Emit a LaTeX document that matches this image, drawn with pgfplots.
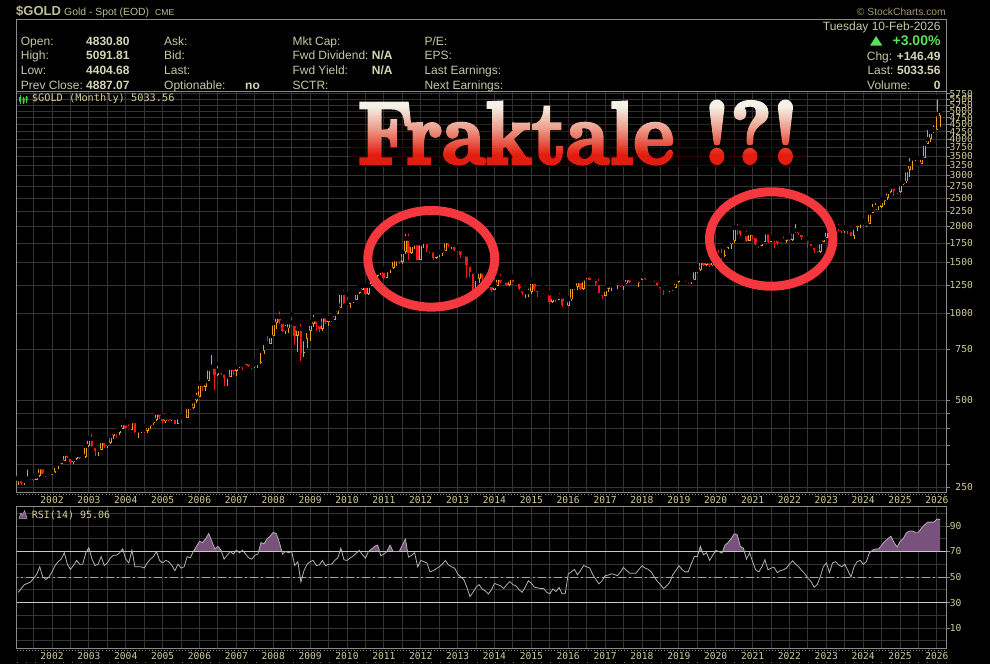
\documentclass[border=0pt]{standalone}
\usepackage{graphicx}
\usepackage{fontspec}
\usepackage{pgfplots}
\pgfplotsset{compat=1.18}
\usepackage{pgfplotstable}

\newfontfamily\uifont{Liberation Sans}
\newfontfamily\monofont{DejaVu Sans Mono}
\newfontfamily\posterfont{lmroman10-bold.otf}[FakeBold=4]

\definecolor{labelkhaki}{RGB}{200,200,165}
\definecolor{valuekhaki}{RGB}{214,214,182}
\definecolor{titlekhaki}{RGB}{190,190,150}
\definecolor{tickkhaki}{RGB}{212,204,150}
\definecolor{copygray}{RGB}{160,152,112}
\definecolor{gridgray}{RGB}{52,52,52}
\definecolor{framegray}{RGB}{138,138,138}
\definecolor{upcandle}{RGB}{238,158,34}
\definecolor{downcandle}{RGB}{248,26,26}
\definecolor{rsipurple}{RGB}{120,82,125}
\definecolor{rsiline}{RGB}{178,178,178}
\definecolor{levelline}{RGB}{200,200,200}
\definecolor{midline}{RGB}{165,165,165}
\definecolor{ringred}{RGB}{244,56,62}
\definecolor{upgreen}{RGB}{88,226,88}
\definecolor{icongreen}{RGB}{70,200,70}
\definecolor{fadetop}{RGB}{244,242,230}
\definecolor{fademid}{RGB}{236,152,134}
\definecolor{fadebot}{RGB}{226,28,14}

% cream at the top of the headline, salmon in the middle, red at the foot
\pgfdeclareverticalshading{headlinegrad}{100bp}{color(0bp)=(fadebot); color(33.6bp)=(fadebot); color(52.6bp)=(fademid); color(69.9bp)=(fadetop); color(100bp)=(fadetop)}

% monthly gold: t = year + (month-1)/12, open high low close, RSI(14)
\pgfplotstableread{
t o h l c r
2001.083 265.6 270 255 266.7 38
2001.167 266.7 268 255 257.7 41
2001.250 257.7 265 255 263.2 44
2001.333 263.2 293 263 267.5 45
2001.417 267.5 275 265 270.6 46
2001.500 270.6 272 262 265.9 49
2001.583 265.9 278 265 273.0 52
2001.667 273.0 294 271 293.1 58
2001.750 293.1 294 277 278.8 50
2001.833 278.8 281 272 275.5 48
2001.917 275.5 280 271 276.5 50
2002.000 276.5 284 276 282.3 54
2002.083 282.3 303 281 296.9 59
2002.167 296.9 304 289 301.4 62
2002.250 301.4 311 300 308.2 64
2002.333 308.2 328 307 326.6 69
2002.417 326.6 332 316 318.5 60
2002.500 318.5 323 301 304.7 56
2002.583 304.7 316 302 312.8 59
2002.667 312.8 325 310 323.7 63
2002.750 323.7 325 312 316.9 60
2002.833 316.9 322 314 317.7 60
2002.917 317.7 349 316 347.2 69
2003.000 347.2 371 345 367.5 73
2003.083 367.5 389 344 347.5 64
2003.167 347.5 352 320 334.9 59
2003.250 334.9 341 321 336.8 60
2003.333 336.8 372 336 361.4 66
2003.417 361.4 371 342 346.0 59
2003.500 346.0 365 342 354.8 61
2003.583 354.8 377 354 375.6 65
2003.667 375.6 390 368 388.0 67
2003.750 388.0 392 370 386.3 67
2003.833 386.3 400 380 398.4 69
2003.917 398.4 417 397 416.3 72
2004.000 416.3 427 399 399.8 64
2004.083 399.8 420 391 395.9 61
2004.167 395.9 428 394 423.7 71
2004.250 423.7 427 384 388.5 58
2004.333 388.5 398 371 393.3 58
2004.417 393.3 400 386 395.8 58
2004.500 395.8 408 384 391.4 57
2004.583 391.4 416 386 407.3 61
2004.667 407.3 419 399 415.7 64
2004.750 415.7 432 412 428.4 66
2004.833 428.4 456 424 453.4 70
2004.917 453.4 458 430 438.0 63
2005.000 438.0 440 418 422.2 61
2005.083 422.2 440 417 435.5 63
2005.167 435.5 447 423 427.5 62
2005.250 427.5 438 423 435.7 59
2005.333 435.7 436 413 414.5 55
2005.417 414.5 443 414 437.1 60
2005.500 437.1 438 417 429.0 57
2005.583 429.0 447 428 433.3 58
2005.667 433.3 475 433 473.3 66
2005.750 473.3 478 461 470.8 65
2005.833 470.8 496 465 495.7 70
2005.917 495.7 541 490 513.0 74
2006.000 513.0 572 512 568.8 78
2006.083 568.8 574 538 556.0 77
2006.167 556.0 584 538 582.0 80
2006.250 582.0 654 581 644.0 84
2006.333 644.0 730 640 653.0 78
2006.417 653.0 653 542 613.5 72
2006.500 613.5 668 606 632.5 74
2006.583 632.5 653 610 623.5 71
2006.667 623.5 626 560 599.3 64
2006.750 599.3 611 560 603.8 67
2006.833 603.8 648 604 646.7 70
2006.917 646.7 650 612 632.0 68
2007.000 632.0 652 605 650.5 71
2007.083 650.5 690 646 664.2 69
2007.167 664.2 666 636 661.8 71
2007.250 661.8 692 661 677.0 68
2007.333 677.0 687 652 659.1 65
2007.417 659.1 667 640 650.5 64
2007.500 650.5 684 646 665.5 67
2007.583 665.5 675 648 672.0 68
2007.667 672.0 745 669 743.0 77
2007.750 743.0 793 721 789.5 76
2007.833 789.5 848 776 783.5 80
2007.917 783.5 838 781 833.8 82
2008.000 833.8 929 832 923.3 85
2008.083 923.3 975 881 971.5 84
2008.167 971.5 1033 917 933.5 77
2008.250 933.5 936 858 871.0 68
2008.333 871.0 929 851 885.8 70
2008.417 885.8 940 857 930.3 69
2008.500 930.3 988 907 918.0 70
2008.583 918.0 920 776 833.0 59
2008.667 833.0 920 736 884.5 62
2008.750 884.5 936 681 730.8 46
2008.833 730.8 826 705 814.5 55
2008.917 814.5 887 756 869.8 60
2009.000 869.8 932 802 919.5 62
2009.083 919.5 1007 898 952.0 63
2009.167 952.0 963 866 916.5 59
2009.250 916.5 928 864 883.3 59.5
2009.333 883.3 981 870 975.5 63
2009.417 975.5 990 920 934.5 58.8
2009.500 934.5 960 905 955.5 60
2009.583 955.5 965 933 949.5 60
2009.667 949.5 1024 949 995.8 63
2009.750 995.8 1070 995 1040.0 65
2009.833 1040.0 1195 1040 1175.8 72.6
2009.917 1175.8 1227 1076 1087.5 63.5
2010.000 1087.5 1162 1073 1078.5 63
2010.083 1078.5 1127 1045 1109.5 64.8
2010.167 1109.5 1135 1088 1113.3 66.5
2010.250 1113.3 1180 1113 1179.3 68.7
2010.333 1179.3 1249 1163 1207.5 70.8
2010.417 1207.5 1266 1199 1244.0 67.5
2010.500 1244.0 1246 1156 1169.0 64.8
2010.583 1169.0 1248 1157 1246.0 70
2010.667 1246.0 1315 1243 1307.0 72
2010.750 1307.0 1388 1307 1346.8 74
2010.833 1346.8 1424 1331 1383.5 75
2010.917 1383.5 1431 1361 1405.5 66.6
2011.000 1405.5 1424 1309 1327.0 68
2011.083 1327.0 1413 1327 1411.0 70
2011.167 1411.0 1448 1381 1439.0 75
2011.250 1439.0 1576 1419 1535.5 70
2011.333 1535.5 1577 1462 1536.5 70
2011.417 1536.5 1557 1478 1505.5 70
2011.500 1505.5 1632 1481 1628.5 75
2011.583 1628.5 1912 1605 1813.5 79.7
2011.667 1813.5 1921 1532 1620.0 65.6
2011.750 1620.0 1764 1601 1722.0 67
2011.833 1722.0 1803 1669 1746.0 69
2011.917 1746.0 1764 1523 1531.0 58
2012.000 1531.0 1764 1526 1744.0 63
2012.083 1744.0 1792 1686 1770.0 62
2012.167 1770.0 1770 1627 1662.5 61
2012.250 1662.5 1678 1613 1651.3 54
2012.333 1651.3 1668 1527 1558.0 55
2012.417 1558.0 1641 1546 1598.5 56.4
2012.500 1598.5 1628 1563 1622.0 58
2012.583 1622.0 1675 1583 1648.5 60
2012.667 1648.5 1788 1643 1776.0 63
2012.750 1776.0 1796 1697 1719.0 59.5
2012.833 1719.0 1755 1672 1726.0 58
2012.917 1726.0 1726 1636 1657.5 57
2013.000 1657.5 1694 1625 1664.8 52.5
2013.083 1664.8 1684 1555 1588.5 50
2013.167 1588.5 1617 1562 1598.3 48
2013.250 1598.3 1600 1321 1469.0 42
2013.333 1469.0 1488 1338 1394.5 34.7
2013.417 1394.5 1420 1180 1192.0 38
2013.500 1192.0 1348 1190 1314.5 42
2013.583 1314.5 1434 1271 1394.8 44
2013.667 1394.8 1420 1290 1326.5 40.5
2013.750 1326.5 1362 1251 1324.0 39
2013.833 1324.0 1361 1227 1253.0 36.8
2013.917 1253.0 1268 1187 1204.5 40
2014.000 1204.5 1270 1202 1244.8 45
2014.083 1244.8 1345 1240 1326.5 44
2014.167 1326.5 1392 1277 1284.0 43
2014.250 1284.0 1331 1268 1295.8 41
2014.333 1295.8 1315 1241 1250.5 44
2014.417 1250.5 1332 1240 1327.0 46.5
2014.500 1327.0 1345 1280 1282.5 44
2014.583 1282.5 1322 1273 1287.3 43
2014.667 1287.3 1288 1204 1210.5 40
2014.750 1210.5 1255 1161 1171.0 38
2014.833 1171.0 1212 1131 1182.8 42
2014.917 1182.8 1239 1142 1184.0 47
2015.000 1184.0 1307 1167 1283.0 45
2015.083 1283.0 1285 1192 1212.5 42
2015.167 1212.5 1223 1142 1183.0 41.5
2015.250 1183.0 1224 1170 1183.3 41
2015.333 1183.3 1232 1170 1190.5 41
2015.417 1190.5 1205 1162 1172.0 38
2015.500 1172.0 1176 1077 1095.3 36.8
2015.583 1095.3 1170 1085 1134.3 40.7
2015.667 1134.3 1157 1098 1114.0 38.6
2015.750 1114.0 1191 1113 1142.3 41.8
2015.833 1142.3 1145 1052 1064.5 36.8
2015.917 1064.5 1088 1046 1060.3 36.8
2016.000 1060.3 1127 1060 1116.3 52.5
2016.083 1116.3 1263 1107 1234.9 54
2016.167 1234.9 1283 1208 1232.7 56
2016.250 1232.7 1303 1208 1291.0 51.7
2016.333 1291.0 1304 1200 1215.0 55
2016.417 1215.0 1362 1199 1320.0 59
2016.500 1320.0 1375 1310 1350.0 58
2016.583 1350.0 1367 1301 1307.0 57
2016.667 1307.0 1352 1302 1315.0 51.7
2016.750 1315.0 1318 1241 1272.0 48
2016.833 1272.0 1337 1171 1173.0 44.6
2016.917 1173.0 1194 1122 1150.0 47
2017.000 1150 1220 1146 1210 51
2017.083 1210 1264 1180 1248 51.5
2017.167 1248 1261 1195 1249 52.5
2017.250 1249 1295 1243 1268 52
2017.333 1268 1273 1214 1268 51
2017.417 1268 1296 1236 1242 54
2017.500 1242 1274 1204 1268 57.5
2017.583 1268 1331 1265 1322 55
2017.667 1322 1358 1274 1280 53
2017.750 1280 1306 1261 1271 53
2017.833 1271 1299 1264 1275 53
2017.917 1275 1307 1237 1302 56
2018.000 1302 1366 1302 1345 58.8
2018.083 1345 1362 1306 1318 57
2018.167 1318 1356 1303 1325 56
2018.250 1325 1365 1302 1315 54
2018.333 1315 1326 1282 1298 50
2018.417 1298 1309 1246 1253 46.5
2018.500 1253 1265 1211 1224 44
2018.583 1224 1224 1160 1202 41
2018.667 1202 1214 1180 1191 43
2018.750 1191 1243 1183 1214 45.7
2018.833 1214 1238 1196 1222 51.7
2018.917 1222 1284 1221 1282 55
2019.000 1282 1326 1276 1321 58.8
2019.083 1321 1347 1310 1313 56
2019.167 1313 1324 1281 1292 54
2019.250 1292 1310 1266 1283 54
2019.333 1283 1306 1266 1305 60
2019.417 1305 1439 1301 1409 66
2019.500 1409 1452 1382 1413 66
2019.583 1413 1555 1400 1520 74
2019.667 1520 1557 1459 1472 67.4
2019.750 1472 1518 1459 1513 69
2019.833 1513 1516 1445 1464 63
2019.917 1464 1523 1454 1517 67
2020.000 1517 1611 1517 1589 70.8
2020.083 1589 1689 1563 1585 70
2020.167 1585 1704 1451 1577 68.7
2020.250 1577 1747 1568 1686 75
2020.333 1686 1765 1670 1730 77
2020.417 1730 1789 1671 1781 80
2020.500 1781 1984 1757 1975 83.9
2020.583 1975 2075 1863 1967 83
2020.667 1967 1992 1849 1886 74
2020.750 1886 1933 1860 1879 72.6
2020.833 1879 1966 1765 1776 64
2020.917 1776 1906 1776 1898 69
2021.000 1898 1959 1803 1847 62
2021.083 1847 1873 1717 1734 55.6
2021.167 1734 1756 1677 1708 54
2021.250 1708 1798 1706 1769 58
2021.333 1769 1913 1766 1907 63.5
2021.417 1907 1916 1750 1770 55.6
2021.500 1770 1832 1767 1814 57
2021.583 1814 1831 1688 1813 57.5
2021.667 1813 1834 1721 1757 53.5
2021.750 1757 1813 1746 1783 55
2021.833 1783 1877 1758 1774 55.6
2021.917 1774 1831 1753 1829 57
2022.000 1829 1853 1781 1796 60
2022.083 1796 1974 1781 1909 62.7
2022.167 1909 2070 1890 1937 60
2022.250 1937 1998 1872 1897 58
2022.333 1897 1910 1787 1837 55
2022.417 1837 1879 1805 1807 52.5
2022.500 1807 1814 1681 1766 49
2022.583 1766 1808 1709 1711 46.5
2022.667 1711 1735 1615 1660 42
2022.750 1660 1730 1617 1634 44
2022.833 1634 1786 1616 1768 50
2022.917 1768 1833 1765 1824 58
2023.000 1824 1949 1823 1928 61
2023.083 1928 1959 1805 1827 53.5
2023.167 1827 2009 1810 1969 61
2023.250 1969 2048 1949 1990 62
2023.333 1990 2079 1933 1963 59.5
2023.417 1963 1985 1893 1919 58
2023.500 1919 1987 1902 1965 60
2023.583 1965 1966 1885 1940 55
2023.667 1940 1953 1847 1849 50
2023.750 1849 2009 1811 1983 58
2023.833 1983 2052 1931 2036 62
2023.917 2036 2135 1973 2063 63
2024.000 2063 2088 2002 2040 60
2024.083 2040 2065 1985 2044 62
2024.167 2044 2236 2039 2230 69
2024.250 2230 2431 2228 2286 71
2024.333 2286 2450 2277 2327 72
2024.417 2327 2388 2286 2327 72
2024.500 2327 2483 2318 2448 75
2024.583 2448 2531 2364 2503 78
2024.667 2503 2685 2472 2635 80
2024.750 2635 2790 2603 2744 82
2024.833 2744 2801 2537 2657 77
2024.917 2657 2726 2583 2625 73.5
2025.000 2625 2817 2614 2798 78
2025.083 2798 2956 2772 2858 80
2025.167 2858 3149 2833 3124 84.6
2025.250 3124 3500 2970 3289 86
2025.333 3289 3435 3121 3289 86
2025.417 3289 3452 3247 3303 85
2025.500 3303 3439 3268 3290 85
2025.583 3290 3453 3281 3448 88.6
2025.667 3448 3871 3436 3858 91
2025.750 3858 4381 3850 4002 93
2025.833 4002 4245 3930 4239 93
2025.917 4239 4550 4200 4320 93
2026.000 4320 5595 4290 4887.07 95.5
2026.083 4830.80 5091.81 4404.68 5033.56 95.06
}\gold

\pgfplotsset{
  geom/.style={
    scale only axis, width=930.2pt,
    xmin=2001.037, xmax=2026.263,
  },
  panel/.style={
    geom,
    axis line style={draw=framegray, line width=0.9pt},
    xtick={2002,...,2026},
    xticklabels={2002,2003,2004,2005,2006,2007,2008,2009,2010,2011,2012,2013,2014,2015,2016,2017,2018,2019,2020,2021,2022,2023,2024,2025,2026},
    minor xtick={2001.5,2002.5,...,2025.5},
    xmajorgrids, xminorgrids, ymajorgrids,
    major grid style={draw=gridgray, line width=0.9pt},
    minor grid style={draw=gridgray, line width=0.9pt},
    xtick style={draw=none},
    minor tick length=0pt,
    ytick pos=right, yticklabel pos=right,
    tick align=outside, major tick length=3pt,
    ytick style={draw=framegray, line width=0.8pt},
    ticklabel style={font=\monofont\fontsize{9.6}{11}\selectfont, text=tickkhaki, inner sep=0pt},
  },
  candle/.style n args={3}{only marks, mark=none, forget plot,
    error bars/y dir=minus, error bars/y explicit, error bars/error mark=none,
    error bars/error bar style={draw=#1, line width=#2, line cap=butt, solid, #3}},
}

\newcommand\headline{\resizebox{441pt}{62pt}{\posterfont\fontsize{90}{90}\selectfont Fraktale !?!}}

\begin{document}
\begin{tikzpicture}
\begin{scope}[x=1pt, y=-1pt]
  \fill[black] (0,0) rectangle (990,664);
  \path[use as bounding box] (0,0) rectangle (990,664);
\end{scope}

% price panel, monthly candles on a log scale
\begin{axis}[panel,
  at={(16.5pt,-492.7pt)}, anchor=south west, height=401.7pt,
  ymode=log, ymin=239.4, ymax=5877,
  ytick={250,300,350,400,450,500,750,1000,1250,1500,1750,2000,2250,2500,2750,3000,3250,3500,3750,4000,4250,4500,4750,5000,5250,5500,5750},
  yticklabels={250,,,,,500,750,1000,1250,1500,1750,2000,2250,2500,2750,3000,3250,3500,3750,4000,4250,4500,4750,5000,5250,5500,5750},
  yticklabel style={anchor=east, xshift=23.3pt},
  xticklabel style={anchor=base, yshift=-8.3pt},
]
  % wicks
  \addplot[candle={upcandle}{1pt}{}, restrict expr to domain={\thisrow{c}-\thisrow{o}}{0:1e9}]
    table[x=t, y=h, y error minus expr={\thisrow{h}-\thisrow{l}}] {\gold};
  \addplot[candle={downcandle}{1pt}{}, restrict expr to domain={\thisrow{o}-\thisrow{c}}{0.001:1e9}]
    table[x=t, y=h, y error minus expr={\thisrow{h}-\thisrow{l}}] {\gold};
  % bodies: falling months filled red
  \addplot[candle={downcandle}{2.8pt}{}, restrict expr to domain={\thisrow{o}-\thisrow{c}}{0.001:1e9}]
    table[x=t, y=o, y error minus expr={\thisrow{o}-\thisrow{c}}] {\gold};
  % rising months hollow orange
  \addplot[candle={upcandle}{2.8pt}{}, restrict expr to domain={\thisrow{c}-\thisrow{o}}{0.001:1e9}]
    table[x=t, y=c, y error minus expr={\thisrow{c}-\thisrow{o}}] {\gold};
  \addplot[candle={black}{0.95pt}{shorten <=0.85pt, shorten >=0.85pt}, restrict expr to domain={\thisrow{c}/\thisrow{o}}{1.015:100}]
    table[x=t, y=c, y error minus expr={\thisrow{c}-\thisrow{o}}] {\gold};
\end{axis}

% RSI(14) panel: grid, levels, labels
\begin{axis}[panel,
  at={(16.5pt,-648.3pt)}, anchor=south west, height=141.6pt,
  ymin=-5.9, ymax=105.1,
  ytick={10,30,50,70,90}, yticklabels={10,30,50,70,90},
  minor ytick={0,20,40,60,80,100}, yminorgrids,
  yticklabel style={anchor=west},
  xticklabel style={anchor=base, yshift=-7.7pt},
]
  \addplot[draw=levelline, line width=0.9pt, forget plot] coordinates {(2000,30) (2027,30)};
  \addplot[draw=midline, line width=0.9pt, dash pattern=on 8pt off 3pt on 2pt off 3pt, forget plot]
    coordinates {(2000,50) (2027,50)};
\end{axis}

% overbought zone: the part of the RSI above 70, filled
\begin{axis}[geom, hide axis, clip=true,
  at={(16.5pt,-551.5pt)}, anchor=south west, height=44.78pt,
  ymin=70, ymax=105.1,
]
  \addplot[fill=rsipurple, draw=none, forget plot] table[x=t, y=r] {\gold} \closedcycle;
\end{axis}

% RSI line and the 70 level on top of the fill
\begin{axis}[geom, hide axis, clip=true,
  at={(16.5pt,-648.3pt)}, anchor=south west, height=141.6pt,
  ymin=-5.9, ymax=105.1,
]
  \addplot[draw=levelline, line width=0.9pt, forget plot] coordinates {(2000,70) (2027,70)};
  \addplot[draw=rsiline, line width=0.8pt, forget plot] table[x=t, y=r] {\gold};
\end{axis}

\begin{scope}[x=1pt, y=-1pt]
  % header
  \node[anchor=base west, inner sep=0pt, text=titlekhaki, font=\uifont\bfseries\fontsize{13}{15}\selectfont] at (16,15.3) {\$GOLD};
  \node[anchor=base west, inner sep=0pt, text=titlekhaki, font=\uifont\fontsize{10.4}{12}\selectfont] at (64,15.3) {Gold - Spot (EOD)};
  \node[anchor=base west, inner sep=0pt, text=titlekhaki, font=\uifont\fontsize{8.6}{10}\selectfont] at (155,15.3) {CME};
  \node[anchor=base east, inner sep=0pt, text=copygray, font=\uifont\fontsize{10.3}{12}\selectfont] at (946,15) {© StockCharts.com};
  \draw[framegray, line width=0.9pt] (16.5,19.3) rectangle (946.7,91);

  \begin{scope}[every node/.style={anchor=base west, inner sep=0pt, text=labelkhaki, font=\uifont\fontsize{12}{14}\selectfont}]
    \node at (20.7,45.3) {Open:};
    \node at (20.7,59.8) {High:};
    \node at (20.7,74.3) {Low:};
    \node at (20.7,89.3) {Prev Close:};
    \node at (164,45.3) {Ask:};
    \node at (164,59.8) {Bid:};
    \node at (164,74.3) {Last:};
    \node at (164,89.3) {Optionable:};
    \node at (292.3,45.3) {Mkt Cap:};
    \node at (292.3,59.8) {Fwd Dividend:};
    \node at (292.3,74.3) {Fwd Yield:};
    \node at (292.3,89.3) {SCTR:};
    \node at (424.3,45.3) {P/E:};
    \node at (424.3,59.8) {EPS:};
    \node at (424.3,74.3) {Last Earnings:};
    \node at (424.3,89.3) {Next Earnings:};
    \node at (866.7,60.3) {Chg:};
    \node at (867.3,74.8) {Last:};
    \node at (867,89.3) {Volume:};
    \node[anchor=base east] at (940.7,30.7) {Tuesday 10-Feb-2026};
  \end{scope}
  \begin{scope}[every node/.style={anchor=base west, inner sep=0pt, text=valuekhaki, font=\uifont\bfseries\fontsize{12}{14}\selectfont}]
    \node at (86,45.3) {4830.80};
    \node at (86,59.8) {5091.81};
    \node at (86,74.3) {4404.68};
    \node at (86,89.3) {4887.07};
    \node at (245,89.3) {no};
    \node at (371.7,59.8) {N/A};
    \node at (371.7,74.3) {N/A};
    \node[anchor=base east] at (940.7,60.3) {+146.49};
    \node[anchor=base east] at (940.7,74.8) {5033.56};
    \node[anchor=base east] at (940.7,89.3) {0};
  \end{scope}
  \fill[upgreen] (870,45.7) -- (882.3,45.7) -- (876.15,36) -- cycle;
  \node[anchor=base east, inner sep=0pt, text=upgreen, font=\uifont\bfseries\fontsize{14}{16}\selectfont] at (940.7,45.7) {+3.00\%};

  % panel captions
  \draw[icongreen, line width=0.8pt] (20,95) -- (20,103.5) (23.5,96.5) -- (23.5,104) (26.5,95.5) -- (26.5,102.5);
  \fill[icongreen] (19,97) rectangle (21,101.5) (22.5,98) rectangle (24.5,102.5) (25.5,96.5) rectangle (27.5,100.5);
  \node[anchor=base west, inner sep=0pt, text=tickkhaki, font=\monofont\fontsize{10.3}{12}\selectfont] at (31.7,101.3) {\$GOLD (Monthly) 5033.56};
  \filldraw[fill=rsipurple, draw=rsiline, line width=0.5pt] (19,518.3) -- (21,513) -- (22.5,515.2) -- (24.5,510.7) -- (27,518.3) -- cycle;
  \node[anchor=base west, inner sep=0pt, text=tickkhaki, font=\monofont\fontsize{10}{12}\selectfont] at (31.7,518) {RSI(14) 95.06};

  % monthly tick rows under the panels
  \draw[framegray, line width=0.9pt, dash pattern=on 0.9pt off 2.17pt] (16.5,494.6) -- (946.7,494.6);
  \draw[framegray, line width=0.9pt, dash pattern=on 0.9pt off 2.17pt] (16.5,650.2) -- (946.7,650.2);
  \draw[framegray!70!black, line width=0.9pt, dash pattern=on 0.9pt off 8.3pt] (16.5,662.8) -- (946.7,662.8);

  % headline: white letters, tinted by a multiplied vertical gradient
  \node[anchor=base, inner sep=0pt, text=white] at (578.35,163.3) {\headline};
  \shade[shading=headlinegrad, blend mode=multiply] (350,99.5) rectangle (806,166);

  % rings around the two tops
  \draw[ringred, line width=9pt] (431.3,258.8) ellipse [x radius=63.5, y radius=48.3];
  \draw[ringred, line width=9pt] (771.2,239) ellipse [x radius=61.7, y radius=47.2];
\end{scope}
\end{tikzpicture}
\end{document}
